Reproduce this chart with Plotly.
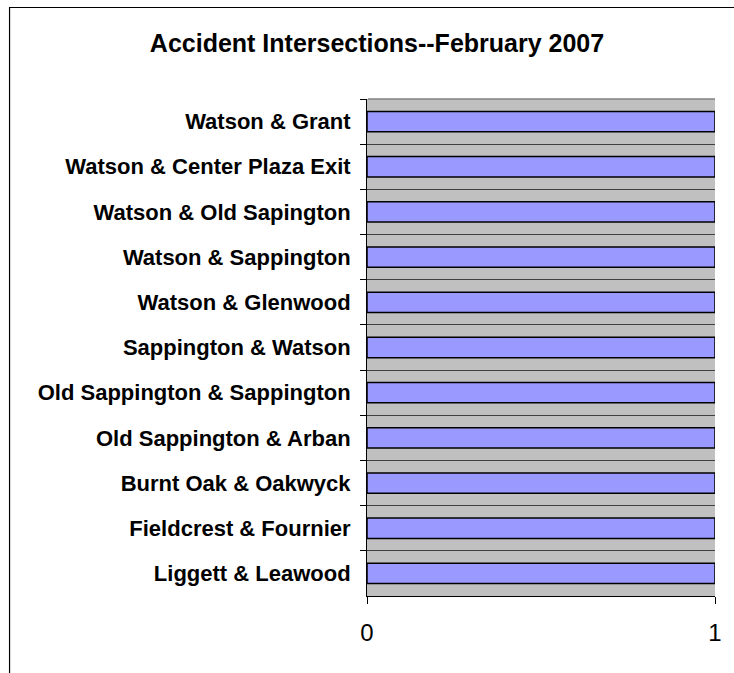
import plotly.graph_objects as go

categories = [
    "Watson & Grant",
    "Watson & Center Plaza Exit",
    "Watson & Old Sapington",
    "Watson & Sappington",
    "Watson & Glenwood",
    "Sappington & Watson",
    "Old Sappington & Sappington",
    "Old Sappington & Arban",
    "Burnt Oak & Oakwyck",
    "Fieldcrest & Fournier",
    "Liggett & Leawood",
]
accidents = [1, 1, 1, 1, 1, 1, 1, 1, 1, 1, 1]
x_ticks = [0, 1]

W, H = 734, 673
L, R, T, B = 367, 734 - 717, 99, 673 - 596
pw, ph = W - L - R, H - T - B


def px_x(p):
    return (p - L) / pw


def px_y(p):
    return (H - B - p) / ph


fig = go.Figure(go.Bar(
    x=accidents, y=categories, orientation="h",
    marker=dict(color="#9999FF", line=dict(color="#000000", width=1.5)),
))

fig.update_layout(
    width=W, height=H,
    margin=dict(l=L, r=R, t=T, b=B),
    paper_bgcolor="white",
    plot_bgcolor="#C0C0C0",
    bargap=0.55,
    showlegend=False,
    font=dict(family="Liberation Sans, Arial, sans-serif", color="#000000"),
    title=dict(
        text="<b>Accident Intersections--February 2007</b>",
        xref="container", x=377 / W, xanchor="center",
        yref="container", y=1 - 43 / H, yanchor="middle",
        font=dict(size=25, color="#000000"),
    ),
    xaxis=dict(
        range=[0, 1], tickvals=x_ticks, ticktext=[str(v) for v in x_ticks],
        showgrid=True, gridcolor="#909090", gridwidth=1,
        zeroline=False,
        showline=True, linecolor="#000000", linewidth=1,
        ticks="outside", ticklen=7, tickcolor="#000000",
        tickfont=dict(size=24, color="#000000"),
        ticklabelstandoff=8,
        fixedrange=True,
    ),
    yaxis=dict(
        type="category", autorange="reversed",
        tickson="boundaries",
        showgrid=True, gridcolor="#404040", gridwidth=1,
        showline=True, linecolor="#000000", linewidth=1,
        ticks="outside", ticklen=6, tickcolor="#000000",
        tickfont=dict(size=22, color="#000000", weight="bold"),
        ticklabelstandoff=11,
    ),
    shapes=[
        dict(type="rect", xref="paper", yref="paper",
             x0=px_x(7.5), x1=px_x(760), y0=px_y(700), y1=px_y(7.5),
             line=dict(color="#000000", width=1.2), fillcolor="rgba(0,0,0,0)",
             layer="below"),
        dict(type="line", xref="paper", yref="paper",
             x0=0.003, x1=1, y0=1, y1=1,
             line=dict(color="#808080", width=1.5), layer="above"),
    ],
)

fig.write_html(
    "out.html",
    config={"displayModeBar": False},
    post_script="document.body.style.margin='0';document.body.style.overflow='hidden';",
)
